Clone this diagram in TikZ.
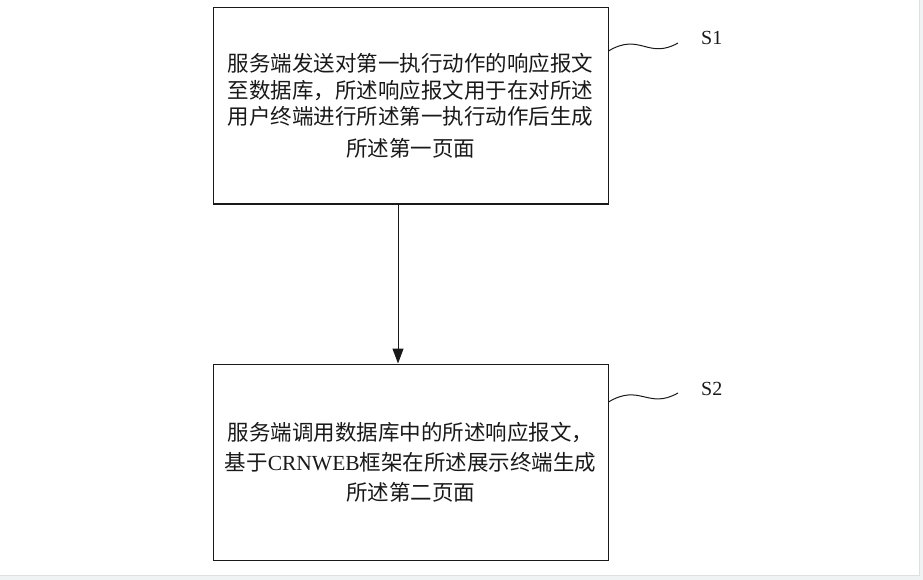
\documentclass[tikz,border=0pt]{standalone}
\usepackage{fontspec}
\setmainfont{Liberation Serif}
\newfontfamily\cjk{Noto Sans CJK SC}
\usetikzlibrary{arrows.meta}
\definecolor{edgegray}{RGB}{240,243,243}
\definecolor{ink}{RGB}{25,25,25}
\tikzset{
  stepbox/.style={draw=ink, line width=1pt, minimum width=395pt, minimum height=196pt,
    inner sep=0pt, align=center, text=ink},
  steplabel/.style={font=\fontsize{20}{24}\selectfont, text=ink, inner sep=0pt, anchor=west},
  wave/.style={draw=ink, line width=1pt},
  flow/.style={draw=ink, line width=1pt, -{Triangle[length=15pt,width=11pt]}}
}
\begin{document}
\begin{tikzpicture}[x=1pt,y=-1pt]
\useasboundingbox (0,0) rectangle (923,580);
\fill[edgegray] (0,0) rectangle (923,580);
\fill[white] (0,0) rectangle (919,575);
\draw[gray!25, line width=0.6pt] (0,575) -- (919,575) -- (919,0);

\node[stepbox, font=\cjk\fontsize{21.5}{26.5}\selectfont] (b1) at (410.5,106)
  {服务端发送对第一执行动作的响应报文\\至数据库，所述响应报文用于在对所述\\用户终端进行所述第一执行动作后生成\\[5pt]所述第一页面};
\node[stepbox, font=\cjk\fontsize{21.5}{30}\selectfont] (b2) at (410.5,462)
  {服务端调用数据库中的所述响应报文，\\基于{\rmfamily CRNWEB}框架在所述展示终端生成\\所述第二页面};

\draw[flow] (b1.south -| 398,0) -- (b2.north -| 398,0);

\coordinate (w1) at (678,43);
\node[steplabel] (s1) at (701,38) {S1};
\draw[wave] ([yshift=55pt]b1.east) .. controls (640,32) and (648,60) .. (w1);

\coordinate (w2) at (678,393);
\node[steplabel] (s2) at (701,389) {S2};
\draw[wave] ([yshift=60pt]b2.east) .. controls (640,383) and (648,410) .. (w2);
\end{tikzpicture}
\end{document}
